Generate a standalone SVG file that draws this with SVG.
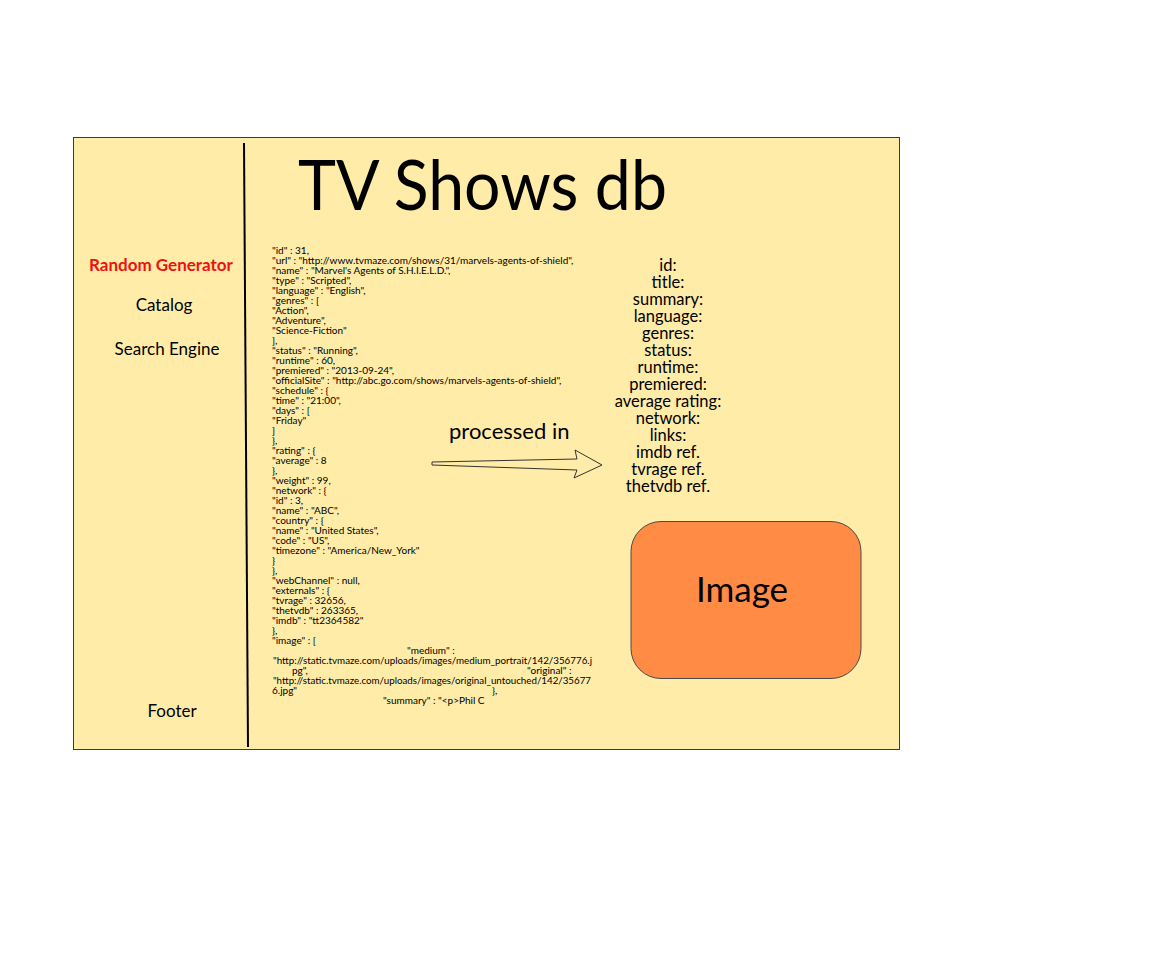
<svg xmlns="http://www.w3.org/2000/svg" width="1175" height="971" viewBox="0 0 1175 971">
<style>
text{font-family:Lato,"Open Sans","Liberation Sans",sans-serif;fill:#000}
.side{font-size:17px;text-anchor:middle}
.json{font-size:10px}
.field{font-size:16.5px;text-anchor:middle}
</style>
<rect width="1175" height="971" fill="#ffffff"/>
<g id="frame">
<rect x="73.5" y="137.5" width="826" height="612" fill="#ffeca8" stroke="#3a3a3a" stroke-width="1"/>
<line x1="244" y1="143" x2="248" y2="747" stroke="#000" stroke-width="2"/>
</g>
<g id="title"><text x="298" y="210" font-size="70" textLength="369" lengthAdjust="spacingAndGlyphs">TV Shows db</text></g>
<g id="sidebar">
<text class="side" x="161" y="271" font-weight="bold" style="fill:#ee1111">Random Generator</text>
<text class="side" x="164" y="311">Catalog</text>
<text class="side" x="167" y="355">Search Engine</text>
<text class="side" x="172" y="717">Footer</text>
</g>
<g id="json" class="json">
<text x="272" y="254">"id" : 31,</text>
<text x="272" y="264">"url" : "http://www.tvmaze.com/shows/31/marvels-agents-of-shield",</text>
<text x="272" y="274">"name" : "Marvel's Agents of S.H.I.E.L.D.",</text>
<text x="272" y="284">"type" : "Scripted",</text>
<text x="272" y="294">"language" : "English",</text>
<text x="272" y="304">"genres" : [</text>
<text x="272" y="314">"Action",</text>
<text x="272" y="324">"Adventure",</text>
<text x="272" y="334">"Science-Fiction"</text>
<text x="272" y="344">],</text>
<text x="272" y="354">"status" : "Running",</text>
<text x="272" y="364">"runtime" : 60,</text>
<text x="272" y="374">"premiered" : "2013-09-24",</text>
<text x="272" y="384">"officialSite" : "http://abc.go.com/shows/marvels-agents-of-shield",</text>
<text x="272" y="394">"schedule" : {</text>
<text x="272" y="404">"time" : "21:00",</text>
<text x="272" y="414">"days" : [</text>
<text x="272" y="424">"Friday"</text>
<text x="272" y="434">]</text>
<text x="272" y="444">},</text>
<text x="272" y="454">"rating" : {</text>
<text x="272" y="464">"average" : 8</text>
<text x="272" y="474">},</text>
<text x="272" y="484">"weight" : 99,</text>
<text x="272" y="494">"network" : {</text>
<text x="272" y="504">"id" : 3,</text>
<text x="272" y="514">"name" : "ABC",</text>
<text x="272" y="524">"country" : {</text>
<text x="272" y="534">"name" : "United States",</text>
<text x="272" y="544">"code" : "US",</text>
<text x="272" y="554">"timezone" : "America/New_York"</text>
<text x="272" y="564">}</text>
<text x="272" y="574">},</text>
<text x="272" y="584">"webChannel" : null,</text>
<text x="272" y="594">"externals" : {</text>
<text x="272" y="604">"tvrage" : 32656,</text>
<text x="272" y="614">"thetvdb" : 263365,</text>
<text x="272" y="624">"imdb" : "tt2364582"</text>
<text x="272" y="634">},</text>
<text x="272" y="644">"image" : [</text>
<text x="407" y="654">"medium" :</text>
<text x="273" y="664" textLength="319" lengthAdjust="spacingAndGlyphs">"http://static.tvmaze.com/uploads/images/medium_portrait/142/356776.j</text>
<text x="292" y="674">pg",</text>
<text x="527" y="674">"original" :</text>
<text x="273" y="684" textLength="318" lengthAdjust="spacingAndGlyphs">"http://static.tvmaze.com/uploads/images/original_untouched/142/35677</text>
<text x="272" y="694">6.jpg"</text>
<text x="492" y="694">},</text>
<text x="383" y="704">"summary" : "&lt;p&gt;Phil C</text>
</g>
<g id="connectors">
<path d="M432,462 L577,459 L575,450 L602,465 L574,478 L577,470 L432,465 Z" fill="#ffeca8" stroke="#333" stroke-width="1"/>
</g>
<g id="label"><text x="449" y="439" font-size="22">processed in</text></g>
<g id="fields">
<text class="field" x="668" y="271"><tspan x="668" y="271">id:</tspan><tspan x="668" y="288">title:</tspan><tspan x="668" y="305">summary:</tspan><tspan x="668" y="322">language:</tspan><tspan x="668" y="339">genres:</tspan><tspan x="668" y="356">status:</tspan><tspan x="668" y="373">runtime:</tspan><tspan x="668" y="390">premiered:</tspan><tspan x="668" y="407">average rating:</tspan><tspan x="668" y="424">network:</tspan><tspan x="668" y="441">links:</tspan><tspan x="668" y="458">imdb ref.</tspan><tspan x="668" y="475">tvrage ref.</tspan><tspan x="668" y="492">thetvdb ref.</tspan></text>
</g>
<g id="image">
<rect x="631" y="521.5" width="230" height="157" rx="30" ry="30" fill="#ff8b45" stroke="#4a4a4a" stroke-width="1"/>
<text x="742" y="602" font-size="35" text-anchor="middle">Image</text>
</g>
</svg>
